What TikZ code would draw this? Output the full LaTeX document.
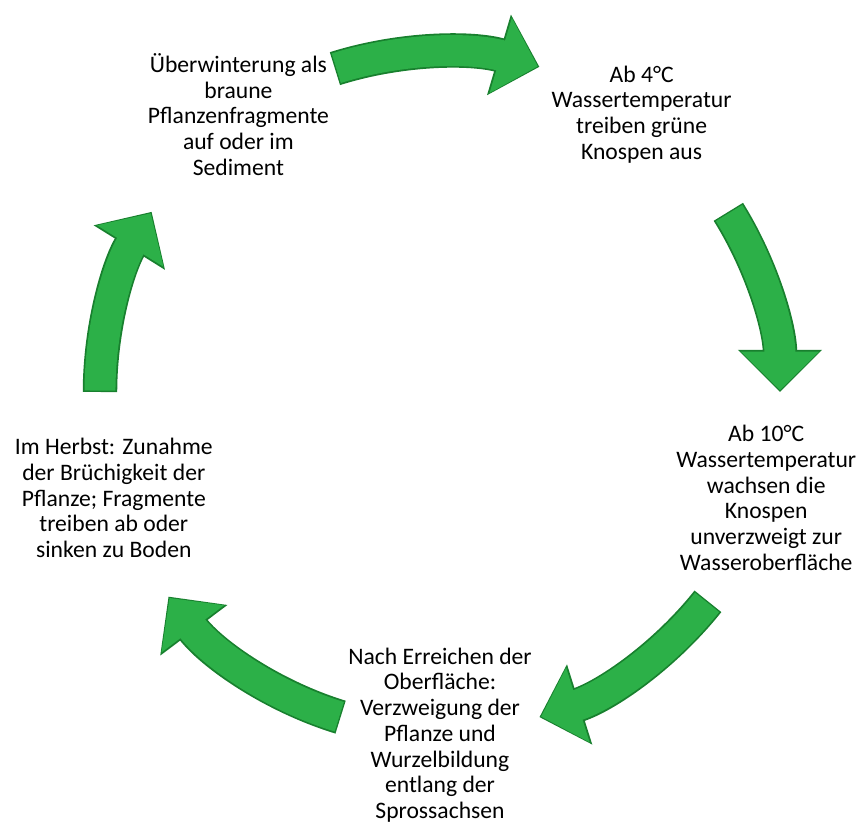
\documentclass[tikz,border=0pt]{standalone}
\usepackage{fontspec}
\setmainfont{Carlito}
\usetikzlibrary{arrows.meta}

\definecolor{leafgreen}{RGB}{44,176,72}
\definecolor{leafrim}{RGB}{24,128,46}

\begin{document}
\begin{tikzpicture}[
  x=0.025cm, y=0.025cm,
  phase/.style={align=center, inner sep=0pt, font=\fontsize{16.8}{18.3}\selectfont},
  cyclearrow/.style={draw=leafrim, line width=24.5pt, looseness=0.87,
    -{Triangle[length=30pt, width=58pt]},
    postaction={draw=leafgreen, line width=22pt, shorten <=1pt, shorten >=1.2pt,
      -{Triangle[length=27.5pt, width=54pt]}}}
]
  \useasboundingbox (0,0) rectangle (858,823);
  \coordinate (c) at (440,431);

  % stages of the cycle
  \node[phase] (winter) at ([shift={(126:343)}]c) {Überwinterung als\\braune\\Pflanzenfragmente\\auf oder im\\Sediment};
  \node[phase] (knospen) at ([shift={(54:343)}]c) {Ab 4°C\\Wassertemperatur\\treiben grüne\\Knospen aus};
  \node[phase] (wachsen) at ([shift={(-18:343)}]c) {Ab 10°C\\Wassertemperatur\\wachsen die\\Knospen\\unverzweigt zur\\Wasseroberfläche};
  \node[phase] (verzweig) at ([shift={(-90:343)}]c) {Nach Erreichen der\\Oberfläche:\\Verzweigung der\\Pflanze und\\Wurzelbildung\\entlang der\\Sprossachsen};
  \node[phase] (herbst) at ([shift={(-162:343)}]c) {Im Herbst: Zunahme\\der Brüchigkeit der\\Pflanze; Fragmente\\treiben ab oder\\sinken zu Boden};

  % arrow ends on the circle
  \coordinate (t1) at ([shift={(108:340)}]c);
  \coordinate (h1) at ([shift={(73:340)}]c);
  \coordinate (t2) at ([shift={(32:340)}]c);
  \coordinate (h2) at ([shift={(0:340)}]c);
  \coordinate (t3) at ([shift={(-38:340)}]c);
  \coordinate (h3) at ([shift={(-73:340)}]c);
  \coordinate (t4) at ([shift={(-107:340)}]c);
  \coordinate (h4) at ([shift={(-143:340)}]c);
  \coordinate (t5) at ([shift={(180:340)}]c);
  \coordinate (h5) at ([shift={(148:340)}]c);

  \draw[cyclearrow] (t1) to[bend left=17] (h1);
  \draw[cyclearrow] (t2) to[bend left=16] (h2);
  \draw[cyclearrow] (t3) to[bend left=17] (h3);
  \draw[cyclearrow] (t4) to[bend left=18] (h4);
  \draw[cyclearrow] (t5) to[bend left=16] (h5);
\end{tikzpicture}
\end{document}
